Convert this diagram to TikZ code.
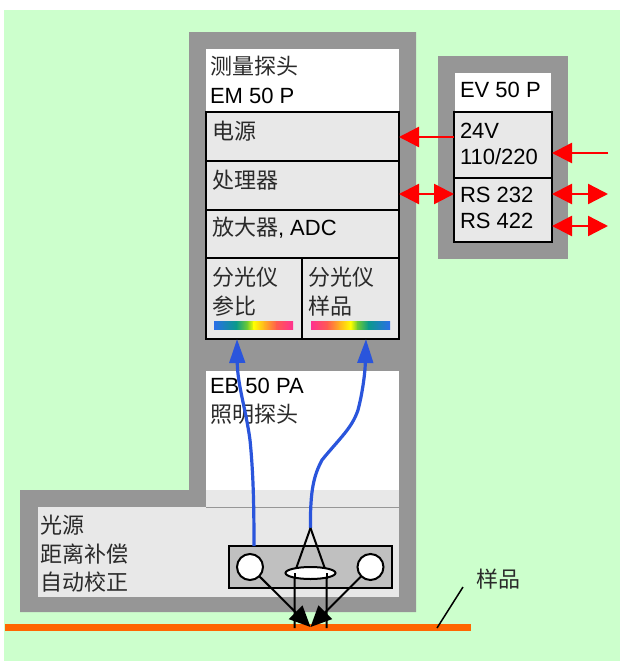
\documentclass[tikz,border=0pt]{standalone}
\usepackage{fontspec}
\setmainfont{Liberation Sans}
\newfontfamily\cjkf{Noto Sans CJK SC}
\newcommand{\zh}[1]{{\cjkf\color{zhgray}#1}}
\usetikzlibrary{arrows.meta,shapes.geometric}
\definecolor{bggreen}{HTML}{CCFFCC}
\definecolor{framegray}{HTML}{969696}
\definecolor{panel}{HTML}{E8E8E8}
\definecolor{lampgray}{HTML}{C0C0C0}
\definecolor{fibre}{HTML}{2A55DC}
\definecolor{zhgray}{HTML}{2A2A2A}
\definecolor{samplebar}{HTML}{FF6600}
\definecolor{sA}{HTML}{2A6EE8}
\definecolor{sB}{HTML}{0A9A8A}
\definecolor{sC}{HTML}{70CC30}
\definecolor{sD}{HTML}{FFFF00}
\definecolor{sE}{HTML}{FFB020}
\definecolor{sF}{HTML}{FF5A50}
\definecolor{sG}{HTML}{FF3090}
\tikzset{
 x=1pt,y=-1pt,
 plain/.style={inner sep=0pt,outer sep=0pt,draw=none},
 unitbox/.style={plain,draw=black,line width=2pt,fill=panel},
 lbl/.style={plain,anchor=base west,align=left,font=\fontsize{22}{28.5}\selectfont},
 tightlbl/.style={lbl,font=\fontsize{22}{25.5}\selectfont},
 redarrow/.style={draw=red,line width=2.4pt,-{Triangle[length=20pt,width=20pt,color=red]}},
 redboth/.style={draw=red,line width=2.4pt,{Triangle[length=20pt,width=20pt,color=red]}-{Triangle[length=20pt,width=20pt,color=red]}},
 fibreline/.style={draw=fibre,line width=3.2pt,-{Triangle[length=24pt,width=15.5pt,color=fibre]}},
 beam/.style={draw=black,line width=2pt},
 beamtip/.style={draw=black,line width=2pt,-{Triangle[length=21pt,width=19pt,color=black]}},
}
\begin{document}
\begin{tikzpicture}
\useasboundingbox (0,0) rectangle (620,662);
% background and housings
\fill[bggreen] (4,10) rectangle (620,661);
\fill[framegray] (189,32) -- (416,32) -- (416,612) -- (20,612) -- (20,490) -- (189,490) -- cycle;
\fill[framegray] (438,56) rectangle (568,259);
\fill[white] (206,49) rectangle (399,112);
\fill[white] (206,371) rectangle (399,490);
\fill[panel] (206,490) rectangle (399,507);
\fill[panel] (38,507) rectangle (399,597);
\draw[framegray,line width=1pt] (206,507) -- (399,507);
\fill[white] (455,73) rectangle (551,112);
% measuring head units
\node[unitbox,minimum width=193pt,minimum height=49pt] (power) at (302.5,136.5) {};
\node[unitbox,minimum width=193pt,minimum height=49pt] (cpu) at (302.5,185.5) {};
\node[unitbox,minimum width=193pt,minimum height=48pt] (amp) at (302.5,234) {};
\node[unitbox,minimum width=96pt,minimum height=81pt] (specref) at (254,298.5) {};
\node[unitbox,minimum width=97pt,minimum height=81pt] (specsam) at (350.5,298.5) {};
% supply units
\node[unitbox,minimum width=98pt,minimum height=66pt] (supply) at (503,145) {};
\node[unitbox,minimum width=98pt,minimum height=64pt] (serial) at (503,210) {};
% spectra
\foreach \xa/\xb/\ca/\cb in {214/236.5/sA/sB,236/247.5/sB/sC,247/254/sC/sD,253.5/265/sD/sE,264.5/277/sE/sF,276.5/293/sF/sG}
  \shade[left color=\ca,right color=\cb] (\xa,321) rectangle (\xb,329);
\foreach \xa/\xb/\ca/\cb in {311/327.5/sG/sF,327/339.5/sF/sE,339/351/sE/sD,350.5/357.5/sD/sC,357/368.5/sC/sB,368/390/sB/sA}
  \shade[left color=\ca,right color=\cb] (\xa,321) rectangle (\xb,329);
% labels (anchored at the baseline of the last line)
\node[lbl] (t1) at (210,103) {\zh{测量探头}\\EM 50 P};
\node[lbl] (t2) at (212,139) {\zh{电源}};
\node[lbl] (t3) at (212,188) {\zh{处理器}};
\node[lbl] (t4) at (212,235) {\zh{放大器}, ADC};
\node[lbl] (t5) at (212,314) {\zh{分光仪}\\\zh{参比}};
\node[lbl] (t6) at (308,314) {\zh{分光仪}\\\zh{样品}};
\node[lbl] (t7) at (210,422) {EB 50 PA\\\zh{照明探头}};
\node[lbl] (t8) at (41,590.5) {\zh{光源}\\\zh{距离补偿}\\\zh{自动校正}};
\node[lbl] (t9) at (460,97) {EV 50 P};
\node[tightlbl] (t10) at (460,164) {24V\\110/220};
\node[tightlbl] (t11) at (460,228) {RS 232\\RS 422};
\node[lbl] (t12) at (476,587) {\zh{样品}};
% sample
\node[plain,fill=samplebar,minimum width=466pt,minimum height=7pt] (sample) at (238,627.5) {};
\coordinate (sampleleader) at (437,628);
\draw[black,line width=1.5pt] (t12.base west) ++(-13,0) -- (sampleleader);
% lamp unit
\node[plain,draw=black,line width=2pt,fill=lampgray,minimum width=162.5pt,minimum height=42pt] (lamp) at (310.25,567) {};
\coordinate (apex) at (310.5,528);
\coordinate (focus) at (310.5,627);
\coordinate (fibreA) at (254,546);
% fibres
\draw[fibreline] (fibreA) .. controls (254,500) and (253,470) .. (250,440) .. controls (246,410) and (237.5,385) .. (specref.south -| 237,0);
\draw[fibreline] (apex) .. controls (310,490) and (314,475) .. (322,460) .. controls (340,438) and (352,428) .. (358,410) .. controls (362,395) and (365,375) .. (specsam.south -| 366,0);
% optics
\node[plain,draw=black,line width=2pt,fill=white,circle,minimum size=26pt] (lampL) at (250,567) {};
\node[plain,draw=black,line width=2pt,fill=white,circle,minimum size=26pt] (lampR) at (370.5,567) {};
\coordinate (lensL) at (294.5,573);
\coordinate (lensR) at (326.5,573);
\coordinate (footL) at (294.5,628);
\coordinate (footR) at (326.5,628);
\draw[beam] (apex) -- (lensL) -- (footL);
\draw[beam] (apex) -- (lensR) -- (footR);
\draw[beamtip] (lampL) -- (focus);
\draw[beamtip] (lampR) -- (focus);
\node[plain,draw=black,line width=2pt,fill=white,ellipse,minimum width=50pt,minimum height=12pt] (lens) at (310.5,573) {};
\draw[beam] (lensL) -- (footL |- lens.south);
\draw[beam] (lensR) -- (footR |- lens.south);
% red connectors
\coordinate (mainsin) at (608,153);
\coordinate (bus1) at (608,194);
\coordinate (bus2) at (608,226);
\draw[redarrow] (supply.west |- 0,137) -- (power.east |- 0,137);
\draw[redarrow] (mainsin) -- (supply.east |- mainsin);
\draw[redboth] (cpu.east |- 0,194) -- (serial.west |- 0,194);
\draw[redboth] (serial.east |- bus1) -- (bus1);
\draw[redboth] (serial.east |- bus2) -- (bus2);
\end{tikzpicture}
\end{document}
